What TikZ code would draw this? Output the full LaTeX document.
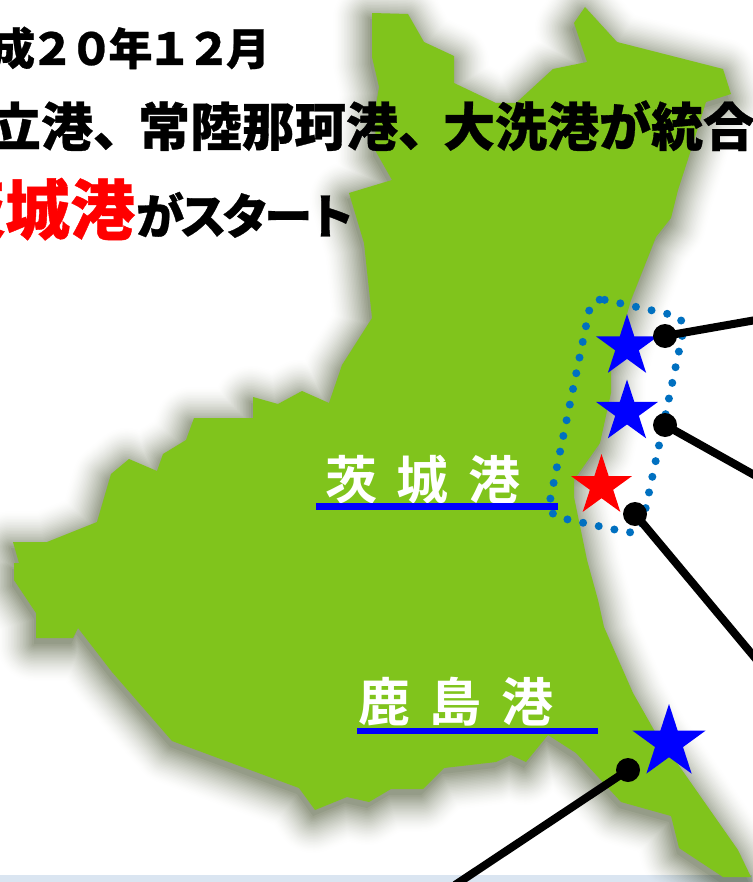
\documentclass[tikz,border=0pt]{standalone}
\usepackage{fontspec}
\usetikzlibrary{shapes.geometric}
\newfontfamily\headfont[FakeBold=0.6]{Noto Sans CJK JP Black}
\newfontfamily\headtight[FakeBold=0.6,LetterSpace=-11]{Noto Sans CJK JP Black}
\newfontfamily\kanafont[FakeBold=0.6,LetterSpace=-11]{Noto Sans CJK JP Black}
\newfontfamily\labelfont{Noto Sans CJK JP Bold}
\definecolor{mapgreen}{RGB}{128,196,28}
\definecolor{shadowcol}{RGB}{95,105,75}
\definecolor{stripcol}{RGB}{218,229,241}
\definecolor{dotblue}{RGB}{0,112,192}
\newcommand{\mapoutline}{(372,13) -- (408,14) -- (424,42) -- (454,56) -- (454,83) -- (496,103) -- (516,103) -- (553,69) -- (587,62) -- (574,23) -- (585,7) -- (617,42) -- (723,69) -- (731,94) -- (706,102) -- (691,150) -- (678,190) -- (671,218) -- (656,237) -- (631,300) -- (611,370) -- (611,393) -- (600,443) -- (574,480) -- (574,497) -- (587,560) -- (598,600) -- (604,627) -- (633,693) -- (654,730) -- (738,850) -- (751,877) -- (723,877) -- (679,848) -- (671,816) -- (621,802) -- (576,753) -- (548,735) -- (526,762) -- (511,755) -- (496,762) -- (444,768) -- (423,789) -- (391,789) -- (369,802) -- (347,797) -- (315,810) -- (299,788) -- (172,741) -- (112,672) -- (78,628) -- (73,638) -- (36,638) -- (36,613) -- (14,580) -- (14,563) -- (19,563) -- (13,542) -- (47,542) -- (97,522) -- (111,474) -- (129,459) -- (157,471) -- (163,454) -- (186,440) -- (194,418) -- (253,418) -- (253,397) -- (278,404) -- (302,391) -- (329,403) -- (342,365) -- (372,318) -- (364,243) -- (349,193) -- (392,180) -- (375,150) -- (376,105) -- (379,87) -- (372,57) -- cycle}
\tikzset{
  title text/.style={inner sep=0pt,outer sep=0pt,anchor=base east,text=black},
  port label/.style={inner sep=0pt,outer sep=0pt,anchor=base,text=white},
  port rule/.style={draw=blue,line width=6.5pt},
  port star/.style={star,star points=5,star point ratio=2.618,fill=#1,draw=none,inner sep=0pt,outer sep=0pt},
  pin/.style={circle,fill=black,minimum size=24pt,inner sep=0pt,outer sep=0pt},
  pin line/.style={draw=black,line width=8pt},
}
\begin{document}
\begin{tikzpicture}[x=1pt,y=-1pt]
\useasboundingbox (0,0) rectangle (752,882);
\fill[white] (0,0) rectangle (752,882);
% soft shadow, opaque layers from the outermost inwards
\begin{scope}[xshift=-2pt,yshift=-6pt]
\foreach \r in {38,36.5,...,1}{
  \pgfmathsetmacro{\shade}{66*(1-\r/38)^1.5}
  \pgfmathsetmacro{\wid}{2*\r}
  \path[fill=shadowcol!\shade!white,draw=shadowcol!\shade!white,line join=round,line width=\wid pt] \mapoutline;
}
\path[fill=shadowcol!66!white] \mapoutline;
\end{scope}
\fill[stripcol,blend mode=multiply] (0,875) rectangle (752,882);
\fill[mapgreen] \mapoutline;
% dotted enclosure
\draw[dotblue,line width=8pt,line cap=round,dash pattern=on 0pt off 16pt,rounded corners=13pt]
  (592,297) -- (686,318) -- (640,535) -- (547,515) -- cycle;
% titles
\node[title text,font=\headtight\fontsize{44pt}{44pt}\selectfont] (t1) at (270,65) {平成２０年１２月};
\node[title text,font=\headfont\fontsize{52pt}{52pt}\selectfont] (t2) at (755,146) {日立港、\kern-7pt常陸那珂港、\kern-7pt大洗港が統合};
\node[title text,font=\headfont] (t3) at (355,234) {{\fontsize{65pt}{65pt}\selectfont\textcolor{red}{茨城港}}\kern1pt{\kanafont\fontsize{48pt}{48pt}\selectfont がスタート}};
% port labels
\node[port label,font=\labelfont\fontsize{52pt}{52pt}\selectfont] (l1) at (423,499) {\spaceskip=20pt 茨 城 港};
\node[port label,font=\labelfont\fontsize{52pt}{52pt}\selectfont] (l2) at (456,721) {\spaceskip=20pt 鹿 島 港};
\coordinate (r1a) at (316,506.5); \coordinate (r1b) at (558,506.5);
\coordinate (r2a) at (357,731); \coordinate (r2b) at (598,731);
\draw[port rule] (r1a) -- (r1b);
\draw[port rule] (r2a) -- (r2b);
% stars
\node[port star=blue,minimum size=65pt] (s1) at (627,346.5) {};
\node[port star=blue,minimum size=65pt] (s2) at (627,412) {};
\node[port star=red,minimum size=64pt] (s3) at (601.5,486) {};
\node[port star=blue,minimum size=77pt] (s4) at (669,742.5) {};
% pins and leaders
\coordinate (e1) at (756,320);
\coordinate (e2) at (756,476);
\coordinate (e3) at (756,659);
\coordinate (e4) at (455,885);
\node[pin] (p1) at (665,336) {};
\node[pin] (p2) at (665,425) {};
\node[pin] (p3) at (635,514) {};
\node[pin] (p4) at (628,770) {};
\draw[pin line] (p1.center) -- (e1);
\draw[pin line] (p2.center) -- (e2);
\draw[pin line] (p3.center) -- (e3);
\draw[pin line] (p4.center) -- (e4);
\end{tikzpicture}
\end{document}
